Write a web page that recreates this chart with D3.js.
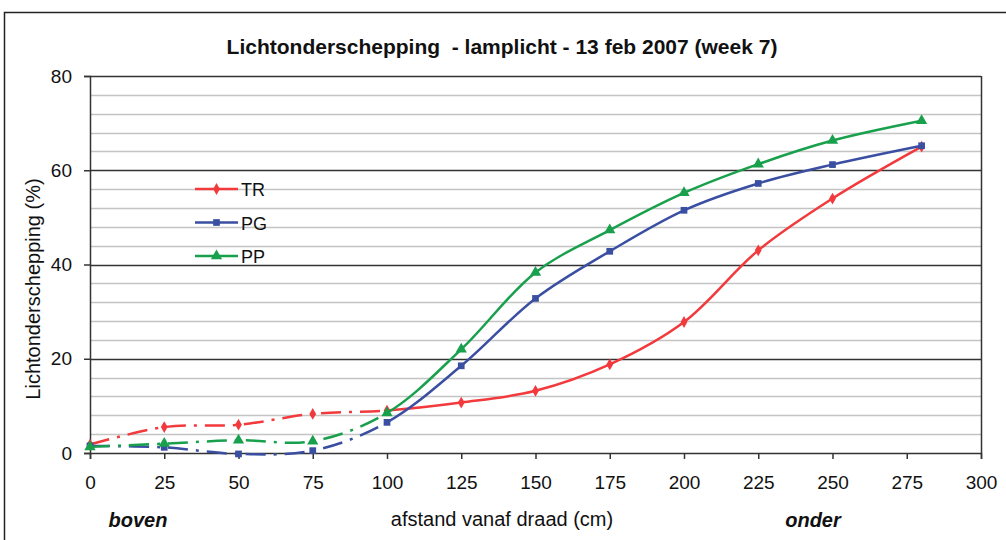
<!DOCTYPE html>
<html>
<head>
<meta charset="utf-8">
<script src="https://cdn.jsdelivr.net/npm/d3@7"></script>
<style>
  body { margin: 0; background: #fff; }
  svg { font-family: "Liberation Sans", Arial, sans-serif; }
</style>
</head>
<body>
<div id="chart"></div>
<script>
// Data
var afstand = [0, 25, 50, 75, 100, 125, 150, 175, 200, 225, 250, 280];
var trValues = [1.8, 5.5, 6.0, 8.3, 9.0, 10.7, 13.2, 18.8, 27.8, 43.0, 54.0, 65.0];
var pgValues = [1.5, 1.2, -0.2, 0.5, 6.5, 18.5, 32.8, 42.8, 51.5, 57.2, 61.2, 65.2];
var ppValues = [1.3, 2.0, 2.7, 2.5, 8.5, 22.0, 38.3, 47.3, 55.2, 61.3, 66.3, 70.5];
var seriesNames = ["TR", "PG", "PP"];
var xTicks = [0, 25, 50, 75, 100, 125, 150, 175, 200, 225, 250, 275, 300];
var yTicks = [0, 20, 40, 60, 80];

var svgWidth = 1006;
var svgHeight = 540;

// Plot area
var margin = { top: 76, right: 25, bottom: 87, left: 90 };
var width = svgWidth - margin.left - margin.right;
var height = svgHeight - margin.top - margin.bottom;

var svg = d3.select("#chart")
  .append("svg")
  .attr("width", svgWidth)
  .attr("height", svgHeight);

// Outer frame
svg.append("rect")
  .attr("x", 4.5)
  .attr("y", 12.5)
  .attr("width", 1020)
  .attr("height", 560)
  .attr("fill", "none")
  .attr("stroke", "#222")
  .attr("stroke-width", 1.5);

var chartGroup = svg.append("g")
  .attr("transform", `translate(${margin.left}, ${margin.top})`);

var xScale = d3.scaleLinear().domain([0, 300]).range([0, width]);
var yScale = d3.scaleLinear().domain([0, 80]).range([height, 0]);

// Minor gridlines every 4
chartGroup.append("g")
  .selectAll("line")
  .data(d3.range(4, 80, 4).filter(d => d % 20 !== 0))
  .enter()
  .append("line")
  .attr("x1", 0)
  .attr("x2", width)
  .attr("y1", d => Math.round(yScale(d)) + 0.5)
  .attr("y2", d => Math.round(yScale(d)) + 0.5)
  .attr("stroke", "#c4c4c4")
  .attr("stroke-width", 1.5);

// Major gridlines
chartGroup.append("g")
  .selectAll("line")
  .data(yTicks.filter(d => d > 0))
  .enter()
  .append("line")
  .attr("x1", 0)
  .attr("x2", width)
  .attr("y1", d => Math.round(yScale(d)) + 0.5)
  .attr("y2", d => Math.round(yScale(d)) + 0.5)
  .attr("stroke", "#333")
  .attr("stroke-width", 1.3);

// Right border of plot area
chartGroup.append("line")
  .attr("x1", width + 0.5)
  .attr("x2", width + 0.5)
  .attr("y1", 0)
  .attr("y2", height)
  .attr("stroke", "#333")
  .attr("stroke-width", 1.5);

// Axes
var bottomAxis = d3.axisBottom(xScale)
  .tickValues(xTicks)
  .tickSize(6)
  .tickPadding(17);

var leftAxis = d3.axisLeft(yScale)
  .tickValues(yTicks)
  .tickSize(6)
  .tickPadding(12);

var xAxis = chartGroup.append("g")
  .attr("transform", `translate(0, ${height})`)
  .call(bottomAxis);

var yAxis = chartGroup.append("g")
  .call(leftAxis);

[xAxis, yAxis].forEach(function(ax) {
  ax.select(".domain").attr("stroke", "#333").attr("stroke-width", 1.5);
  ax.selectAll(".tick line").attr("stroke", "#333").attr("stroke-width", 1.5);
  ax.selectAll("text")
    .attr("font-size", "19px")
    .attr("fill", "#111")
    .attr("font-family", "Liberation Sans, Arial, sans-serif");
});

// Series
var series = [
  { name: seriesNames[0], values: trValues, color: "#f2393c", shape: d3.symbolDiamond, size: 40 },
  { name: seriesNames[1], values: pgValues, color: "#3a4ea2", shape: d3.symbolSquare, size: 45 },
  { name: seriesNames[2], values: ppValues, color: "#18a04c", shape: d3.symbolTriangle, size: 55 }
];

var defs = svg.append("defs");
defs.append("clipPath").attr("id", "clipLeft")
  .append("rect")
  .attr("x", -10).attr("y", -20)
  .attr("width", xScale(100) + 10).attr("height", height + 40);
defs.append("clipPath").attr("id", "clipRight")
  .append("rect")
  .attr("x", xScale(100)).attr("y", -20)
  .attr("width", width).attr("height", height + 40);

var line = d3.line()
  .x((d, i) => xScale(afstand[i]))
  .y(d => yScale(d))
  .curve(d3.curveCatmullRom.alpha(0.5));

series.forEach(function(s) {
  // dash-dot part up to 100 cm
  chartGroup.append("path")
    .datum(s.values)
    .attr("d", line)
    .attr("clip-path", "url(#clipLeft)")
    .attr("fill", "none")
    .attr("stroke", s.color)
    .attr("stroke-width", 2.5)
    .attr("stroke-dasharray", "20,8,3,8");

  // solid part from 100 cm
  chartGroup.append("path")
    .datum(s.values)
    .attr("d", line)
    .attr("clip-path", "url(#clipRight)")
    .attr("fill", "none")
    .attr("stroke", s.color)
    .attr("stroke-width", 2.5);

  chartGroup.selectAll(".marker-" + s.name)
    .data(s.values)
    .enter()
    .append("path")
    .attr("d", d3.symbol().type(s.shape).size(s.size))
    .attr("transform", (d, i) => `translate(${xScale(afstand[i])}, ${yScale(d)})`)
    .attr("fill", s.color);
});

// Legend
var legend = svg.append("g")
  .attr("transform", "translate(195, 189)");

series.forEach(function(s, i) {
  var row = legend.append("g")
    .attr("transform", `translate(0, ${i * 33.5})`);
  row.append("line")
    .attr("x1", 0).attr("x2", 43)
    .attr("y1", 0).attr("y2", 0)
    .attr("stroke", s.color)
    .attr("stroke-width", 2.5);
  row.append("path")
    .attr("d", d3.symbol().type(s.shape).size(s.size))
    .attr("transform", "translate(21.5, 0)")
    .attr("fill", s.color);
  row.append("text")
    .attr("x", 46)
    .attr("y", 7)
    .attr("font-size", "18px")
    .attr("fill", "#111")
    .text(s.name);
});

// Title
svg.append("text")
  .attr("x", 502)
  .attr("y", 54)
  .attr("text-anchor", "middle")
  .attr("font-size", "21px")
  .attr("font-weight", "bold")
  .attr("fill", "#111")
  .style("white-space", "pre")
  .text("Lichtonderschepping  - lamplicht - 13 feb 2007 (week 7)");

// Axis labels
svg.append("text")
  .attr("transform", "translate(40, 289) rotate(-90)")
  .attr("text-anchor", "middle")
  .attr("font-size", "20px")
  .attr("fill", "#111")
  .text("Lichtonderschepping (%)");

svg.append("text")
  .attr("x", 502)
  .attr("y", 526)
  .attr("text-anchor", "middle")
  .attr("font-size", "20px")
  .attr("fill", "#111")
  .text("afstand vanaf draad (cm)");

svg.append("text")
  .attr("x", 138)
  .attr("y", 527)
  .attr("text-anchor", "middle")
  .attr("font-size", "20px")
  .attr("font-weight", "bold")
  .attr("font-style", "italic")
  .attr("fill", "#111")
  .text("boven");

svg.append("text")
  .attr("x", 813)
  .attr("y", 527)
  .attr("text-anchor", "middle")
  .attr("font-size", "20px")
  .attr("font-weight", "bold")
  .attr("font-style", "italic")
  .attr("fill", "#111")
  .text("onder");
</script>
</body>
</html>
